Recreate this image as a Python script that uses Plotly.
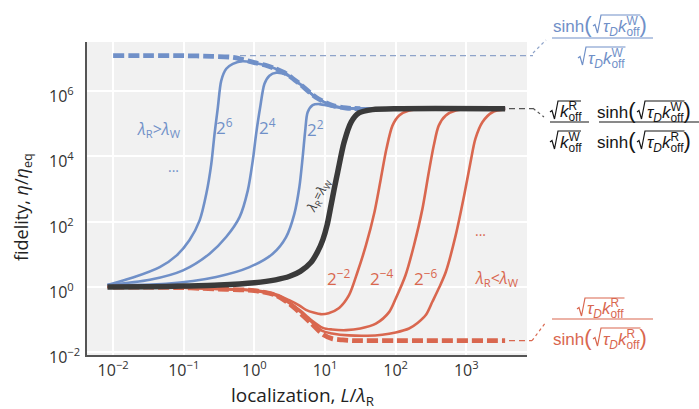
import plotly.graph_objects as go
import numpy as np

# ---------------- data (log10 of L/lambda_R, log10 of fidelity) ----------------
blue_env_logx = [-2.0, -1.5, -1.0, -0.6, -0.3, -0.16, 0.0, 0.17, 0.3, 0.45, 0.64, 0.87, 1.1, 1.3, 1.5]
blue_env_logy = [7.085, 7.085, 7.08, 7.06, 7.03, 6.96, 6.87, 6.78, 6.68, 6.53, 6.22, 5.81, 5.56, 5.48, 5.46]

blue6_logx = [-2.08, -1.72, -1.34, -1.10, -0.92, -0.775, -0.68, -0.61, -0.564, -0.517, -0.469, -0.398,
              -0.305, -0.164, 0.0, 0.17, 0.3, 0.45, 0.64, 0.87, 1.1, 1.3, 1.6, 2.5, 3.55]
blue6_logy = [0.06, 0.29, 0.61, 0.97, 1.43, 2.04, 2.86, 3.77, 4.69, 5.50, 6.32, 6.68,
              6.83, 6.91, 6.86, 6.78, 6.68, 6.53, 6.22, 5.81, 5.56, 5.48, 5.46, 5.46, 5.46]

blue4_logx = [-2.08, -1.48, -1.01, -0.634, -0.40, -0.21, -0.093, -0.023, 0.025, 0.082, 0.143, 0.213,
              0.308, 0.449, 0.64, 0.87, 1.1, 1.3, 1.6, 2.5, 3.55]
blue4_logy = [0.06, 0.22, 0.51, 1.02, 1.53, 2.14, 2.96, 3.87, 4.69, 5.50, 6.22, 6.47,
              6.56, 6.50, 6.22, 5.81, 5.56, 5.48, 5.46, 5.46, 5.46]

blue2_logx = [-2.08, -1.25, -0.54, -0.069, 0.26, 0.449, 0.566, 0.637, 0.684, 0.72, 0.754, 0.825,
              0.919, 1.107, 1.3, 1.6, 2.5, 3.55]
blue2_logy = [0.06, 0.10, 0.31, 0.61, 1.02, 1.53, 2.24, 3.06, 3.98, 4.79, 5.35, 5.57,
              5.60, 5.52, 5.47, 5.46, 5.46, 5.46]

black_logx = [-2.08, -1.5, -1.0, -0.5, 0.0, 0.3, 0.5, 0.65, 0.8, 0.9, 0.97, 1.03, 1.085, 1.13, 1.18,
              1.27, 1.37, 1.48, 1.67, 2.05, 3.55]
black_logy = [0.0, 0.01, 0.03, 0.06, 0.13, 0.22, 0.33, 0.48, 0.75, 1.1, 1.45, 1.9, 2.5, 3.0, 3.52,
              4.43, 5.05, 5.33, 5.43, 5.46, 5.46]

red_env_logx = [-2.0, -1.5, -1.0, -0.77, -0.4, 0.0, 0.3, 0.5, 0.65, 0.8, 0.97, 1.1, 1.25, 1.4, 2.0, 3.55]
red_env_logy = [0.0, -0.005, -0.02, -0.04, -0.07, -0.11, -0.25, -0.52, -0.80, -1.1, -1.45, -1.58,
                -1.62, -1.64, -1.64, -1.64]

red2_logx = [-2.08, -1.0, -0.5, 0.0, 0.3, 0.5, 0.64, 0.73, 0.85, 0.94, 1.05, 1.2, 1.34, 1.46, 1.58,
             1.70, 1.79, 1.87, 1.955, 2.05, 2.19, 2.43, 3.55]
red2_logy = [0.0, -0.02, -0.06, -0.10, -0.22, -0.41, -0.57, -0.70, -0.79, -0.83, -0.80, -0.64, -0.25,
             0.46, 1.28, 2.29, 3.31, 4.23, 4.94, 5.25, 5.40, 5.46, 5.46]

red4_logx = [-2.08, -1.0, -0.5, 0.0, 0.3, 0.5, 0.65, 0.8, 0.97, 1.1, 1.3, 1.5, 1.72, 1.91, 2.0, 2.14,
             2.26, 2.38, 2.47, 2.54, 2.61, 2.71, 2.85, 3.08, 3.55]
red4_logy = [0.0, -0.02, -0.06, -0.11, -0.24, -0.48, -0.72, -1.0, -1.25, -1.30, -1.32, -1.27, -1.12,
             -0.76, -0.36, 0.36, 1.28, 2.40, 3.52, 4.33, 4.94, 5.25, 5.40, 5.46, 5.46]

red6_logx = [-2.08, -1.0, -0.5, 0.0, 0.3, 0.5, 0.65, 0.8, 0.97, 1.1, 1.34, 1.6, 1.81, 2.0, 2.19, 2.31,
             2.43, 2.52, 2.62, 2.71, 2.85, 2.97, 3.06, 3.13, 3.23, 3.37, 3.55]
red6_logy = [0.0, -0.02, -0.06, -0.11, -0.25, -0.50, -0.76, -1.05, -1.35, -1.42, -1.48, -1.49, -1.46,
             -1.39, -1.27, -1.10, -0.85, -0.45, 0.0, 0.46, 1.58, 2.80, 3.82, 4.54, 5.05, 5.35, 5.44]

x_tickvals = [0.01, 0.1, 1, 10, 100, 1000]
x_ticktext = ["10<sup>−2</sup>", "10<sup>−1</sup>", "10<sup>0</sup>", "10<sup>1</sup>",
              "10<sup>2</sup>", "10<sup>3</sup>"]
y_tickvals = [0.01, 1, 100, 1e4, 1e6]
y_ticktext = ["10<sup>−2</sup>", "10<sup>0</sup>", "10<sup>2</sup>", "10<sup>4</sup>", "10<sup>6</sup>"]

blue_asym = 10 ** blue_env_logy[0]
black_asym = 10 ** black_logy[-1]
red_asym = 10 ** red_env_logy[-1]

# ---------------- styling ----------------
BLUE = "#7090c8"
RED = "#d9674f"
BLACK = "#3a3a3a"
INK = "#151515"
BG = "#f1f1f1"
FONT = "Open Sans"
MATH = "Liberation Sans"

W, H = 699, 409
L, R, T, B = 87, 527, 42, 355


def pxx(x):
    return (x - L) / (R - L)


def pxy(y):
    return (B - y) / (B - T)


fig = go.Figure()


def add_curve(lx, ly, color, width, dash="solid"):
    fig.add_trace(go.Scatter(
        x=10 ** np.array(lx), y=10 ** np.array(ly), mode="lines",
        line=dict(color=color, width=width, dash=dash, shape="spline", smoothing=0.8),
        hoverinfo="skip", showlegend=False))


add_curve(blue6_logx, blue6_logy, BLUE, 2.6)
add_curve(blue4_logx, blue4_logy, BLUE, 2.6)
add_curve(blue2_logx, blue2_logy, BLUE, 2.6)
add_curve(blue_env_logx, blue_env_logy, BLUE, 4.8, "11px,4px")
add_curve(red2_logx, red2_logy, RED, 2.6)
add_curve(red4_logx, red4_logy, RED, 2.6)
add_curve(red6_logx, red6_logy, RED, 2.6)
add_curve(red_env_logx, red_env_logy, RED, 4.8, "11px,4px")
add_curve(black_logx, black_logy, BLACK, 5.5)

# ---------------- leader lines ----------------
shapes = []


def seg(x0, y0, x1, y1, color, width=1.3, dash="6px,4px", yref="paper"):
    shapes.append(dict(type="line", xref="paper", yref=yref, x0=x0, y0=y0, x1=x1, y1=y1,
                       line=dict(color=color, width=width, dash=dash), layer="above"))


seg(pxx(240), blue_asym, pxx(533), blue_asym, "#8ea3c9", 1.2, yref="y")
seg(pxx(533), pxy(53), pxx(546), pxy(40), "#8ea3c9", 1.2, "3px,3px")
seg(pxx(509), black_asym, pxx(533), black_asym, "#555555", 1.4, yref="y")
seg(pxx(533), pxy(108.3), pxx(544), pxy(117), "#555555", 1.2, "3px,3px")
seg(pxx(509), red_asym, pxx(532), red_asym, RED, 1.2, yref="y")
seg(pxx(532), pxy(340.7), pxx(546), pxy(322), RED, 1.2, "3px,3px")

# fraction bars
seg(pxx(552), pxy(38), pxx(653), pxy(38), BLUE, 1.2, "solid")
seg(pxx(550), pxy(122), pxx(589), pxy(122), INK, 1.2, "solid")
seg(pxx(599), pxy(122), pxx(700), pxy(122), INK, 1.2, "solid")
seg(pxx(552), pxy(319), pxx(653), pxy(319), RED, 1.2, "solid")

# ---------------- text ----------------
ann = []


def txt(x, y, s, color, size=15, font=FONT, angle=0, xanchor="center"):
    ann.append(dict(x=pxx(x), y=pxy(y), xref="paper", yref="paper", text=s, showarrow=False,
                    xanchor=xanchor, yanchor="middle", textangle=angle,
                    font=dict(family=font, size=size, color=color)))


# y tick labels (left aligned, like the reference)
for v, t in zip(y_tickvals, y_ticktext):
    ann.append(dict(x=pxx(47), y=np.log10(v), xref="paper", yref="y", text=t, showarrow=False,
                    xanchor="left", yanchor="middle", yshift=-4,
                    font=dict(family=FONT, size=16, color="#333333")))

lam = "<i>λ</i>"
txt(159, 129, f"{lam}<sub>R</sub>&gt;{lam}<sub>W</sub>", BLUE, 16)
txt(173, 166, "...", BLUE, 14)
txt(224, 127, "2<sup>6</sup>", BLUE, 17)
txt(267, 127, "2<sup>4</sup>", BLUE, 17)
txt(315, 128, "2<sup>2</sup>", BLUE, 17)
txt(319, 195, f"{lam}<sub>R</sub>={lam}<sub>W</sub>", BLACK, 13, angle=-63)
txt(339, 277, "2<sup>−2</sup>", RED, 17)
txt(382, 277, "2<sup>−4</sup>", RED, 17)
txt(426, 277, "2<sup>−6</sup>", RED, 17)
txt(480, 230, "...", RED, 14)
txt(497, 278, f"{lam}<sub>R</sub>&lt;{lam}<sub>W</sub>", RED, 16)

# axis titles
txt(22, 207, "fidelity, <i>η</i>/<i>η</i><sub>eq</sub>", "#222222", 18, angle=-90)
txt(302, 396, "localization, <i>L</i>/<i>λ</i><sub>R</sub>", "#222222", 19)

# ---------------- equations ----------------
FS = 17           # main math font size
PS = 22           # big parenthesis size
SUB_W = 0.944 * FS * 0.7
SUB_R = 0.722 * FS * 0.7


def kk(letter, adv):
    return (f'<i>k</i><sup><span style="letter-spacing:-{adv:.1f}px">{letter}</span></sup>'
            '<sub>off</sub>')


tD = "<i>τ</i><sub><i>D</i></sub>"
kW = kk("W", SUB_W)
kR = kk("R", SUB_R)
RAD_LONG = 38.5   # estimated width of tau_D k_off
RAD_SHORT = 22.0  # estimated width of k_off
CLOSE = f'<span style="font-size:{PS}px">)</span>'
OPEN = f'<span style="font-size:{PS}px">(</span>'


def math_text(x, y, s, color, anchor):
    ann.append(dict(x=pxx(x), y=pxy(y), xref="paper", yref="paper", text=s, showarrow=False,
                    xanchor=anchor, yanchor="middle", borderpad=0,
                    font=dict(family=MATH, size=FS, color=color)))


def radical(a, base, width, color):
    top = base - 17
    pts = [(a, base - 6), (a + 2, base - 7.5), (a + 4.5, base + 1), (a + 8, top), (a + 9 + width, top)]
    path = "M " + " L ".join(f"{pxx(u):.5f},{pxy(v):.5f}" for u, v in pts)
    shapes.append(dict(type="path", xref="paper", yref="paper", path=path,
                       line=dict(color=color, width=1.2), layer="above"))


def sinh_sqrt(a, base, inner, width, color):
    """sinh( sqrt(inner) ) with radical sign starting at x=a, baseline base"""
    math_text(a, base - 7.6, f"sinh{OPEN}", color, "right")
    radical(a, base, width, color)
    math_text(a + 9, base - 6.9, inner + CLOSE, color, "left")


def sqrt_only(a, base, inner, width, color):
    radical(a, base, width, color)
    math_text(a + 9, base - 5.9, inner, color, "left")


# top (blue)
sinh_sqrt(593, 32, tD + kW, RAD_LONG, BLUE)
sqrt_only(578, 64, tD + kW, RAD_LONG, BLUE)
# middle (black)
sqrt_only(550, 118, kR, RAD_SHORT, INK)
sqrt_only(550, 148, kW, RAD_SHORT, INK)
sinh_sqrt(637, 118, tD + kW, RAD_LONG, INK)
sinh_sqrt(637, 148, tD + kR, RAD_LONG, INK)
# bottom (red)
sqrt_only(577, 315, tD + kR, RAD_LONG, RED)
sinh_sqrt(593, 345, tD + kR, RAD_LONG, RED)

axis_common = dict(type="log", showgrid=True, gridcolor="white", gridwidth=1.6, zeroline=False,
                   showline=True, linecolor="#555555", linewidth=2, ticks="", mirror=False,
                   tickfont=dict(family=FONT, size=16, color="#333333"))

fig.update_layout(
    width=W, height=H, margin=dict(l=L, r=W - R, t=T, b=H - B),
    paper_bgcolor="white", plot_bgcolor=BG,
    xaxis=dict(range=[-2.37, 3.86], tickvals=x_tickvals, ticktext=x_ticktext,
               ticklabelstandoff=0, **axis_common),
    yaxis=dict(range=[-2.08, 7.5], tickvals=y_tickvals, ticktext=y_ticktext,
               showticklabels=False, **axis_common),
    shapes=shapes, annotations=ann,
)

fig.write_html("out.html")
